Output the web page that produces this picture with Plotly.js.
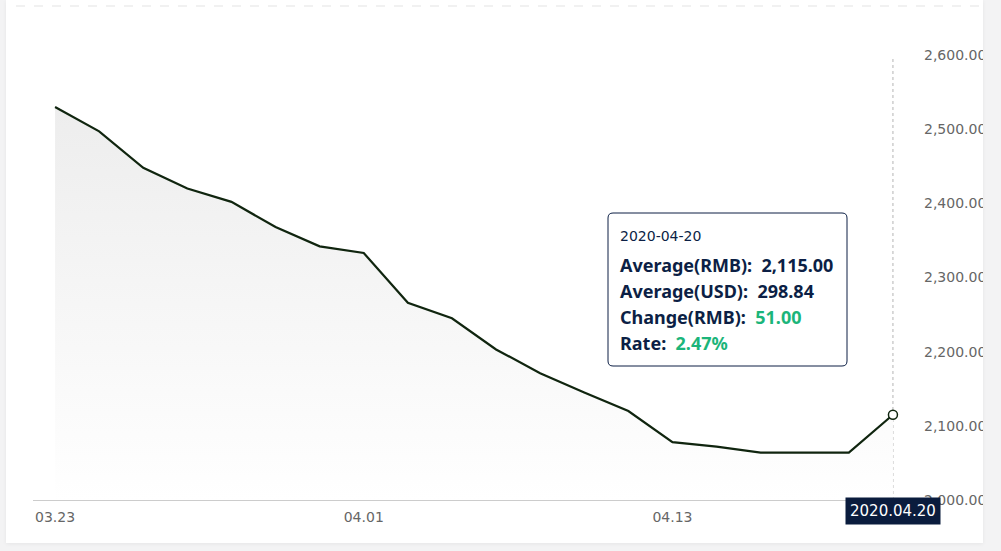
<!DOCTYPE html>
<html>
<head>
<meta charset="utf-8">
<script src="https://cdn.plot.ly/plotly-3.0.1.min.js"></script>
<style>
  html, body { margin: 0; padding: 0; width: 1001px; height: 551px; background: #f3f3f4; overflow: hidden; }
  #card { position: absolute; left: 6px; top: 0; width: 977px; height: 543px; background: #ffffff;
          box-shadow: 0 1px 4px rgba(0,0,0,0.06); }
  #chart { position: absolute; left: 0; top: 0; width: 1001px; height: 551px;
           clip-path: inset(0px 18px 8px 6px); }
</style>
</head>
<body>
<div id="card"></div>
<div id="chart"></div>
<script>
// ---- data ----
const dates = ['03.23','03.24','03.25','03.26','03.27','03.30','03.31','04.01','04.02','04.03',
               '04.07','04.08','04.09','04.10','04.13','04.14','04.15','04.16','04.17','04.20'];
const avgRMB = [2530, 2497, 2448, 2420, 2402, 2368, 2342, 2333, 2266, 2245,
                2203, 2171, 2145, 2120, 2078, 2072, 2064, 2064, 2064, 2115];
const tickDates = ['03.23', '04.01', '04.13'];
const yTicks = [2000, 2100, 2200, 2300, 2400, 2500, 2600];
const yTickText = ['2,000.00','2,100.00','2,200.00','2,300.00','2,400.00','2,500.00','2,600.00'];
const hoverFullDate = '2020-04-20';
const hoverAxisDate = '2020.04.20';
const hoverUSD = 298.84;

// ---- derived hover values ----
const last = avgRMB.length - 1;
const lastVal = avgRMB[last];
const change = lastVal - avgRMB[last - 1];
const rate = change / avgRMB[last - 1] * 100;
const fmt = v => v.toLocaleString('en-US', {minimumFractionDigits: 2, maximumFractionDigits: 2});

// ---- geometry helpers (plot area: left 33, right 915, top 55, bottom 500) ----
const L = 33, R = 915, T = 55, B = 500;
const W = R - L, H = B - T;
const px = x => (x - L) / W;
const py = y => (B - y) / H;

function roundRect(x0, y0, x1, y1, r) {
  const rx = r / W, ry = r / H;
  const a = px(x0), b = px(x1), top = py(y0), bot = py(y1);
  return `M ${a+rx},${top} L ${b-rx},${top} Q ${b},${top} ${b},${top-ry} ` +
         `L ${b},${bot+ry} Q ${b},${bot} ${b-rx},${bot} L ${a+rx},${bot} ` +
         `Q ${a},${bot} ${a},${bot+ry} L ${a},${top-ry} Q ${a},${top} ${a+rx},${top} Z`;
}

const navy = '#0c1f45';
const green = '#1bb57a';
const font = 'Noto Sans, Open Sans, sans-serif';
const axisFont = 'DejaVu Sans, sans-serif';

const traces = [
  {
    x: dates, y: avgRMB, type: 'scatter', mode: 'lines',
    line: {color: '#10250f', width: 2.2},
    fill: 'tozeroy',
    fillgradient: {type: 'vertical', start: 2000, stop: Math.max(...avgRMB),
                   colorscale: [[0, 'rgba(255,255,255,1)'], [1, '#ededed']]},
    hoverinfo: 'skip'
  },
  {
    x: [dates[last]], y: [lastVal], type: 'scatter', mode: 'markers',
    marker: {size: 9, color: '#ffffff', line: {color: '#10250f', width: 1.5}},
    hoverinfo: 'skip'
  }
];

const lineY = [236, 265, 291, 317, 343];
const tipX = px(618);
const annotations = [
  {xref: 'paper', yref: 'paper', x: tipX, y: py(lineY[0]), xanchor: 'left', yanchor: 'middle',
   text: hoverFullDate, showarrow: false, font: {family: axisFont, size: 14, color: navy}},
  {xref: 'paper', yref: 'paper', x: tipX, y: py(lineY[1]), xanchor: 'left', yanchor: 'middle',
   text: `<b>Average(RMB):  ${fmt(lastVal)}</b>`, showarrow: false, font: {family: font, size: 18, color: navy}},
  {xref: 'paper', yref: 'paper', x: tipX, y: py(lineY[2]), xanchor: 'left', yanchor: 'middle',
   text: `<b>Average(USD):  ${fmt(hoverUSD)}</b>`, showarrow: false, font: {family: font, size: 18, color: navy}},
  {xref: 'paper', yref: 'paper', x: tipX, y: py(lineY[3]), xanchor: 'left', yanchor: 'middle',
   text: `<b>Change(RMB):  <span style="color:${green}">${fmt(change)}</span></b>`, showarrow: false,
   font: {family: font, size: 18, color: navy}},
  {xref: 'paper', yref: 'paper', x: tipX, y: py(lineY[4]), xanchor: 'left', yanchor: 'middle',
   text: `<b>Rate:  <span style="color:${green}">${rate.toFixed(2)}%</span></b>`, showarrow: false,
   font: {family: font, size: 18, color: navy}},
  {xref: 'x', yref: 'paper', x: last, y: py(510.5), xanchor: 'center', yanchor: 'middle',
   text: hoverAxisDate, showarrow: false, bgcolor: '#0a1c3d', borderpad: 4,
   font: {family: axisFont, size: 15, color: '#ffffff'}}
];

const shapes = [
  {type: 'line', xref: 'paper', yref: 'paper', x0: px(16), x1: px(983), y0: py(6), y1: py(6),
   line: {color: '#e3e3e3', width: 1, dash: 'dash'}},
  {type: 'line', xref: 'x', yref: 'paper', x0: last, x1: last, y0: 0, y1: py(58),
   line: {color: '#b5b5b5', width: 1, dash: 'dot'}, layer: 'below'},
  {type: 'path', xref: 'paper', yref: 'paper', path: roundRect(608, 213, 847, 366, 5),
   fillcolor: '#ffffff', line: {color: navy, width: 1}, layer: 'above'}
];

const layout = {
  width: 1001, height: 551,
  margin: {l: L, r: 1001 - R, t: T, b: 551 - B},
  paper_bgcolor: 'rgba(0,0,0,0)', plot_bgcolor: 'rgba(0,0,0,0)',
  showlegend: false,
  font: {family: font},
  xaxis: {
    type: 'category', range: [-0.5, dates.length - 0.5],
    tickmode: 'array', tickvals: tickDates, ticktext: tickDates,
    showgrid: false, zeroline: false, showline: true, linecolor: '#cccccc', linewidth: 1,
    ticks: '', ticklabelstandoff: 4, tickfont: {family: axisFont, size: 14, color: '#666666'}
  },
  yaxis: {
    side: 'right', range: [2000, 2600],
    tickmode: 'array', tickvals: yTicks, ticktext: yTickText,
    showgrid: false, zeroline: false, showline: false, ticks: '', ticklabelstandoff: 8,
    tickfont: {family: axisFont, size: 14, color: '#666666'}
  },
  shapes: shapes,
  annotations: annotations,
  hovermode: false
};

Plotly.newPlot('chart', traces, layout, {staticPlot: true, displayModeBar: false});
</script>
</body>
</html>
